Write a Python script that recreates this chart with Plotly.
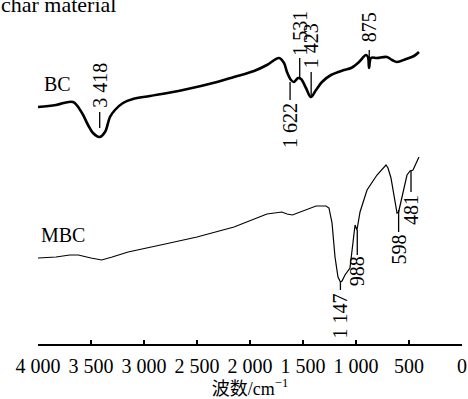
import plotly.graph_objects as go

# ---- data (wavenumber cm-1, relative transmittance in arbitrary units) ----
bc_wn = [4000, 3830, 3670, 3585, 3528, 3481, 3418, 3368, 3321, 3274, 3198, 3104,
         2943, 2632, 2311, 2151, 1962, 1840, 1726, 1679, 1651, 1613, 1585, 1547,
         1519, 1472, 1425, 1377, 1321, 1236, 1113, 1047, 972, 906, 887, 877, 858,
         802, 708, 660, 613, 528, 453, 406]
bc_t = [237, 239, 242, 231, 219, 211, 207, 212, 227, 234, 241, 245,
        248, 254, 262, 267, 273, 279, 286, 281, 272, 264, 262, 266,
        265, 256, 247, 254, 262, 269, 274, 276, 282, 289, 287, 276, 286,
        286, 287, 284, 282, 285, 288, 292]

mbc_wn = [4000, 3830, 3700, 3620, 3500, 3400, 3300, 3150, 2800, 2500, 2151, 1840,
          1700, 1650, 1600, 1520, 1377, 1283, 1255, 1226, 1198, 1170, 1147, 1132,
          1104, 1057, 1028, 1009, 991, 962, 896, 802, 717, 698, 670, 632, 613, 598,
          594, 556, 519, 490, 462, 406]
mbc_t = [86, 87, 89, 89, 86, 84, 87, 92, 100, 107, 117, 130,
         132, 130, 129, 132, 138, 138, 136, 121, 87, 67, 62, 63,
         69, 76, 104, 119, 114, 132, 154, 169, 179, 176, 166, 141, 131, 132,
         134, 154, 169, 173, 174, 187]

bc_peaks = [3418, 1622, 1531, 1423, 875]
mbc_peaks = [1147, 988, 598, 481]

series_names = ["BC", "MBC"]
x_ticks = [4000, 3500, 3000, 2500, 2000, 1500, 1000, 500, 0]

# ---- layout helpers (pixel -> axis units: y = 344 - py) ----
def fmt(v):
    return f"{v:,}".replace(",", " ")

# leader line [y_start, y_end] and text centre (y)
bc_label_pos = {3418: (232, 216, 259), 1622: (262, 244, 218), 1531: (286, 266, 311),
                1423: (272, 247, 298), 875: (294, 276, 317)}
mbc_label_pos = {1147: (62, 54, 28), 988: (114, 89, 73), 598: (134, 112, 94),
                 481: (174, 152, 134)}

FONT = "Liberation Serif, Times New Roman, serif"
FS = 20

fig = go.Figure()
fig.add_trace(go.Scatter(x=bc_wn, y=bc_t, mode="lines", name=series_names[0],
                         line=dict(color="black", width=2.6), line_shape="spline"))
fig.add_trace(go.Scatter(x=mbc_wn, y=mbc_t, mode="lines", name=series_names[1],
                         line=dict(color="black", width=1.2)))

annotations = []
shapes = []
for peaks, pos in ((bc_peaks, bc_label_pos), (mbc_peaks, mbc_label_pos)):
    for p in peaks:
        y0, y1, yt = pos[p]
        shapes.append(dict(type="line", xref="x", yref="y", x0=p, x1=p, y0=y0, y1=y1,
                           line=dict(color="black", width=1.3)))
        annotations.append(dict(x=p, y=yt, xref="x", yref="y", text=fmt(p),
                                textangle=-90, showarrow=False, xanchor="center",
                                yanchor="middle", font=dict(family=FONT, size=FS, color="black")))

annotations.append(dict(x=3820, y=260, xref="x", yref="y", text=series_names[0], showarrow=False,
                        font=dict(family=FONT, size=FS, color="black")))
annotations.append(dict(x=3765, y=109, xref="x", yref="y", text=series_names[1], showarrow=False,
                        font=dict(family=FONT, size=FS, color="black")))
annotations.append(dict(x=118 / 424 - 38 / 424, y=1.0, xref="paper", yref="paper",
                        text="char material", showarrow=False, xanchor="right", yanchor="bottom",
                        yshift=-19, font=dict(family=FONT, size=22, color="black")))

fig.update_layout(
    width=468, height=399,
    margin=dict(l=38, r=6, t=0, b=55),
    paper_bgcolor="white", plot_bgcolor="white",
    showlegend=False,
    annotations=annotations, shapes=shapes,
    xaxis=dict(range=[4000, 0], tickvals=x_ticks, ticktext=[fmt(v) for v in x_ticks],
               ticks="inside", ticklen=4, tickwidth=1.5, tickcolor="black",
               showline=True, linewidth=1.5, linecolor="black", showgrid=False,
               zeroline=False, tickfont=dict(family=FONT, size=FS, color="black"),
               ticklabelstandoff=3,
               title=dict(text="波数/cm<sup>−1</sup>", standoff=4,
                          font=dict(family="Liberation Serif, Noto Sans CJK SC", size=18,
                                    color="black"))),
    yaxis=dict(range=[0, 344], visible=False),
)

fig.write_html("out.html")
